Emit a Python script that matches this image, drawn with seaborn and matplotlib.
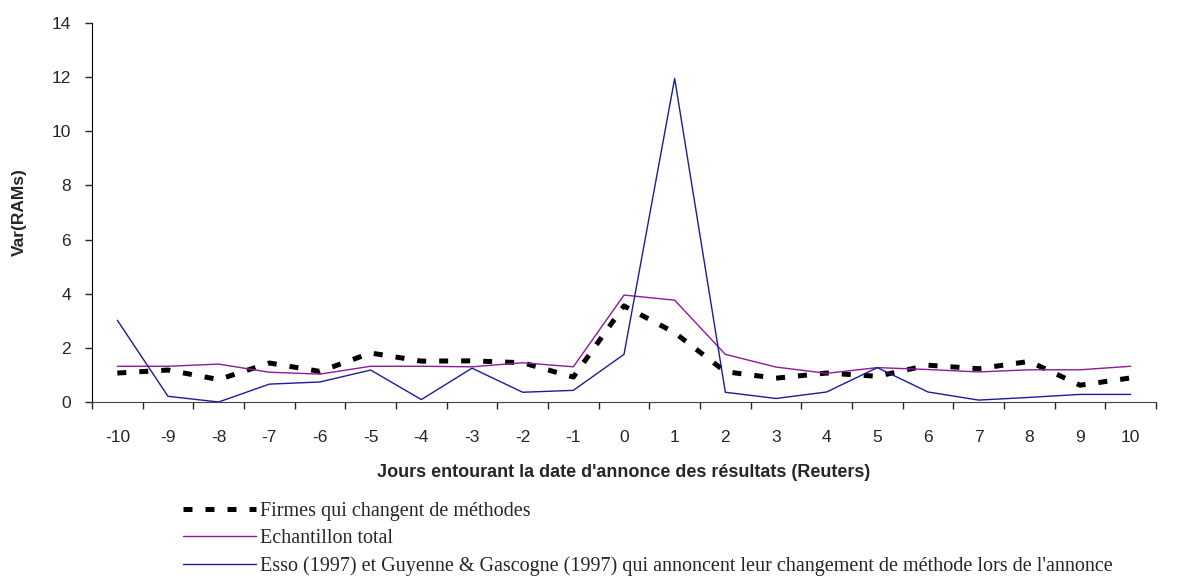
import numpy as np
import pandas as pd
import matplotlib
matplotlib.use('Agg')
import matplotlib.pyplot as plt
import seaborn as sns

# data
jours = list(range(-10, 11))
firmes = [1.07, 1.18, 0.83, 1.44, 1.13, 1.81, 1.51, 1.52, 1.45, 0.92, 3.55, 2.56,
          1.12, 0.88, 1.07, 0.95, 1.36, 1.23, 1.50, 0.62, 0.89]
echantillon = [1.32, 1.32, 1.40, 1.10, 1.03, 1.32, 1.32, 1.30, 1.45, 1.30, 3.95, 3.76,
               1.76, 1.29, 1.06, 1.27, 1.20, 1.11, 1.19, 1.19, 1.32]
esso = [3.02, 0.21, 0.00, 0.66, 0.74, 1.18, 0.09, 1.25, 0.36, 0.43, 1.76, 11.95,
        0.36, 0.13, 0.37, 1.27, 0.37, 0.07, 0.17, 0.28, 0.28]

labels = ["Firmes qui changent de méthodes",
          "Echantillon total",
          "Esso (1997) et Guyenne & Gascogne (1997) qui annoncent leur changement de méthode lors de l'annonce"]

df = pd.DataFrame({'jour': jours, 'firmes': firmes, 'echantillon': echantillon, 'esso': esso})

sns.set_style('ticks')
plt.rcParams['font.family'] = ['Liberation Sans', 'DejaVu Sans']

fig = plt.figure(figsize=(12, 5.79), dpi=100)
ax = fig.add_axes([92/1200, 1-402/579, (1156-92)/1200, (402-23)/579])

sns.lineplot(data=df, x='jour', y='firmes', ax=ax, color='black', lw=3.6,
             linestyle=(0, (1.8, 2.6)), dash_capstyle='butt', label=labels[0])
sns.lineplot(data=df, x='jour', y='echantillon', ax=ax, color='#8e1a98', lw=1.0, label=labels[1])
sns.lineplot(data=df, x='jour', y='esso', ax=ax, color='#1c1c9a', lw=1.0, label=labels[2])

ax.set_xlim(-10.5, 10.5)
ax.set_ylim(0, 14)
ax.set_yticks(range(0, 15, 2))
ax.set_xticks(jours)
ax.set_xticklabels([str(j) for j in jours])
ax.set_xticks(np.arange(-10.5, 11, 1), minor=True)
ax.tick_params(axis='x', which='major', length=0, pad=20, labelsize=12.5)
ax.tick_params(axis='x', which='minor', length=5, direction='out', width=1)
ax.tick_params(axis='y', length=5, direction='out', width=1, pad=10, labelsize=12.5)
sns.despine(ax=ax)
ax.spines['left'].set_color('black')
ax.spines['bottom'].set_color('#444444')

ax.set_xlabel("Jours entourant la date d'annonce des résultats (Reuters)",
              fontsize=13, fontweight='bold', labelpad=14)
ax.set_ylabel("Var(RAMs)", fontsize=12.5, fontweight='bold', labelpad=18)

handles, _ = ax.get_legend_handles_labels()
ax.get_legend().remove()
fig.legend(handles, labels, loc='upper left', bbox_to_anchor=(165/1200, 1-484/579),
           frameon=False, handlelength=3.6, handletextpad=0.2, labelspacing=0.4,
           prop={'family': ['Liberation Serif', 'DejaVu Serif'], 'size': 14.5})

fig.savefig('out.png', dpi=100)
